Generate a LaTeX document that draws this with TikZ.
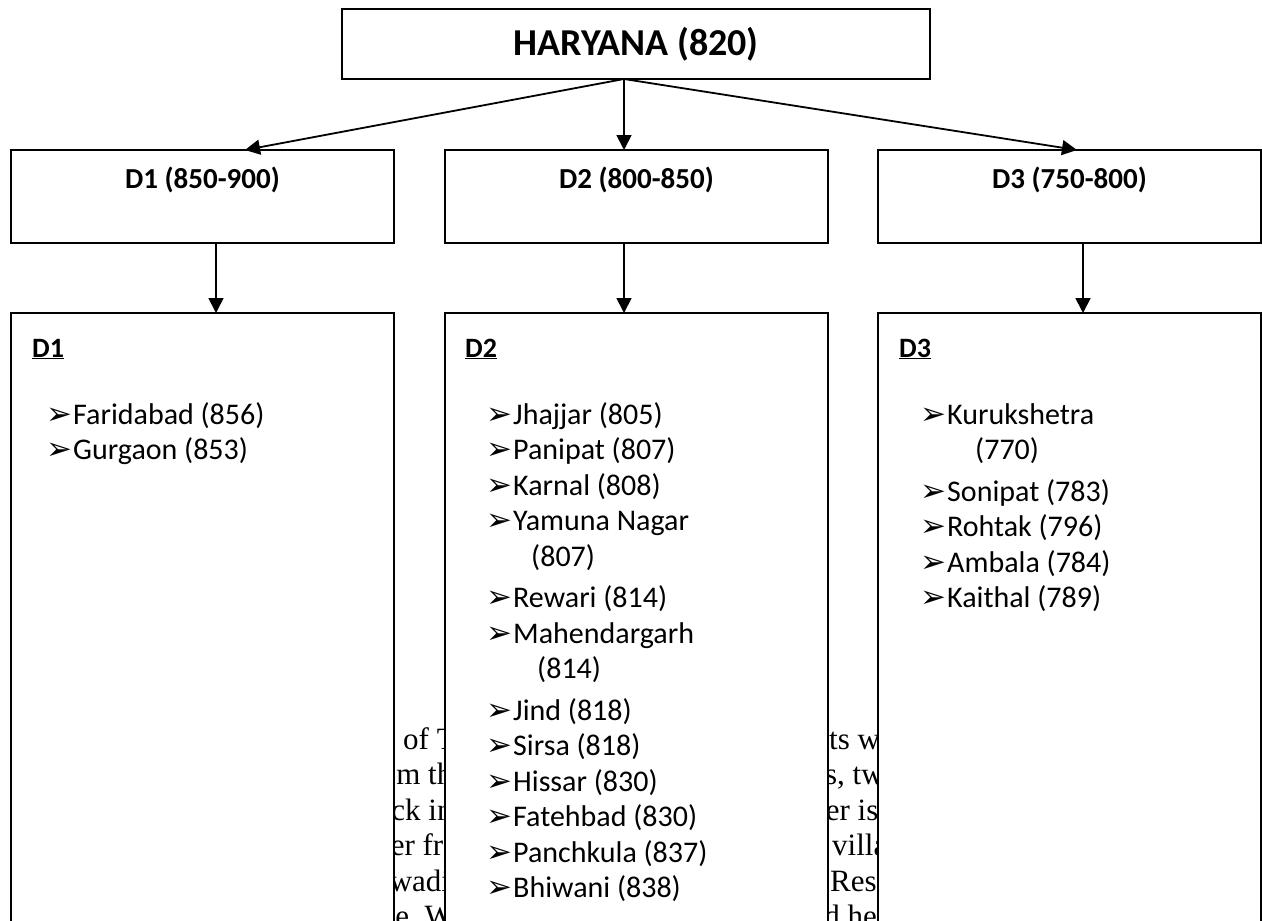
\documentclass[tikz,border=0pt]{standalone}
\usepackage{fontspec}
\setmainfont{Carlito}
\newfontfamily\bgfont{Liberation Serif}
\newfontfamily\dvfont{DejaVu Sans}
\usetikzlibrary{arrows.meta,calc}
\begin{document}
\begin{tikzpicture}[x=1pt,y=-1pt,
  box/.style={draw, line width=1.8pt, fill=white, inner sep=0pt, outer sep=0pt},
  arr/.style={line width=1.8pt, -{Triangle[length=15pt,width=15pt]}},
  itm/.style={anchor=base west, inner sep=0pt, font=\fontsize{30}{36}\selectfont},
  bul/.style={anchor=base east, inner sep=0pt, font=\dvfont\fontsize{31}{34}\selectfont},
  bgt/.style={anchor=base west, inner sep=0pt, font=\bgfont\fontsize{31}{36}\selectfont},
  hd/.style={anchor=base west, inner sep=0pt, font=\bfseries\fontsize{28}{34}\selectfont},
  ttl/.style={inner sep=0pt, font=\bfseries\fontsize{29}{34}\selectfont}
]
\useasboundingbox (0,0) rectangle (1262,921);
\clip (0,0) rectangle (1262,921);
% background text fragments
\node[bgt] (g1a) at (403,749) {of T};
\node[bgt] (g1b) at (360,784.5) {from the};
\node[bgt] (g1c) at (362,820) {back in};
\node[bgt] (g1d) at (351,855.5) {other from};
\node[bgt] (g1e) at (307,891) {Anganwadi};
\node[bgt] (g1f) at (371,926.5) {are, We};
\node[bgt] (g2a) at (751.5,749) {districts were};
\node[bgt] (g2b) at (756,784.5) {blocks, two};
\node[bgt] (g2c) at (755,820) {number is};
\node[bgt] (g2d) at (832,855.5) {villages};
\node[bgt] (g2e) at (830,891) {Research};
\node[bgt] (g2f) at (795,926.5) {and he};
% boxes
\node[box, minimum width=588pt, minimum height=70pt, font=\bfseries\fontsize{38}{42}\selectfont] (top) at (636,44) {HARYANA (820)};
\node[box, minimum width=383pt, minimum height=93pt] (d1) at (202.5,196.5) {};
\node[box, minimum width=383pt, minimum height=93pt] (d2) at (636.5,196.5) {};
\node[box, minimum width=383pt, minimum height=93pt] (d3) at (1069.5,196.5) {};
\node[ttl] (d1t) at (202.5,180) {D1 (850-900)};
\node[ttl] (d2t) at (636.5,180) {D2 (800-850)};
\node[ttl] (d3t) at (1069.5,180) {D3 (750-800)};
\node[box, minimum width=383pt, minimum height=647pt] (l1) at (202.5,636.5) {};
\node[box, minimum width=383pt, minimum height=647pt] (l2) at (636.5,636.5) {};
\node[box, minimum width=383pt, minimum height=647pt] (l3) at (1069.5,636.5) {};
% connectors
\draw[arr] ($(top.south)+(-12,0)$) -- ($(d1.north)+(42.5,0)$);
\draw[arr] ($(top.south)+(-12,0)$) -- ($(d2.north)+(-12.5,0)$);
\draw[arr] ($(top.south)+(-12,0)$) -- ($(d3.north)+(7.5,0)$);
\draw[arr] ($(d1.south)+(13.5,0)$) -- ($(l1.north)+(13.5,0)$);
\draw[arr] ($(d2.south)+(-12.5,0)$) -- ($(l2.north)+(-12.5,0)$);
\draw[arr] ($(d3.south)+(13.5,0)$) -- ($(l3.north)+(13.5,0)$);
% headers
\node[hd] (h1) at (32,357) {\underline{D1}};
\node[hd] (h2) at (465,357) {\underline{D2}};
\node[hd] (h3) at (899,357) {\underline{D3}};
% D1 list
\node[bul] (b11) at (73,424) {➢};   \node[itm] (i11) at (73,424) {Faridabad (856)};
\node[bul] (b12) at (73,459.5) {➢}; \node[itm] (i12) at (73,459.5) {Gurgaon (853)};
% D2 list
\node[bul] (b21) at (513,424) {➢};    \node[itm] (i21) at (513,424) {Jhajjar (805)};
\node[bul] (b22) at (513,459.5) {➢};  \node[itm] (i22) at (513,459.5) {Panipat (807)};
\node[bul] (b23) at (513,495) {➢};    \node[itm] (i23) at (513,495) {Karnal (808)};
\node[bul] (b24) at (513,530.5) {➢};  \node[itm] (i24) at (513,530.5) {Yamuna Nagar};
\node[itm] (i24b) at (531,566) {(807)};
\node[bul] (b25) at (513,607.5) {➢};  \node[itm] (i25) at (513,607.5) {Rewari (814)};
\node[bul] (b26) at (513,643) {➢};    \node[itm] (i26) at (513,643) {Mahendargarh};
\node[itm] (i26b) at (537,678.5) {(814)};
\node[bul] (b27) at (513,720) {➢};    \node[itm] (i27) at (513,720) {Jind (818)};
\node[bul] (b28) at (513,755.5) {➢};  \node[itm] (i28) at (513,755.5) {Sirsa (818)};
\node[bul] (b29) at (513,791) {➢};    \node[itm] (i29) at (513,791) {Hissar (830)};
\node[bul] (b2a) at (513,826.5) {➢};  \node[itm] (i2a) at (513,826.5) {Fatehbad (830)};
\node[bul] (b2b) at (513,862) {➢};    \node[itm] (i2b) at (513,862) {Panchkula (837)};
\node[bul] (b2c) at (513,897.5) {➢};  \node[itm] (i2c) at (513,897.5) {Bhiwani (838)};
% D3 list
\node[bul] (b31) at (947,424) {➢};    \node[itm] (i31) at (947,424) {Kurukshetra};
\node[itm] (i31b) at (975,459.5) {(770)};
\node[bul] (b32) at (947,501) {➢};    \node[itm] (i32) at (947,501) {Sonipat (783)};
\node[bul] (b33) at (947,536.5) {➢};  \node[itm] (i33) at (947,536.5) {Rohtak (796)};
\node[bul] (b34) at (947,572) {➢};    \node[itm] (i34) at (947,572) {Ambala (784)};
\node[bul] (b35) at (947,607.5) {➢};  \node[itm] (i35) at (947,607.5) {Kaithal (789)};
\end{tikzpicture}
\end{document}
